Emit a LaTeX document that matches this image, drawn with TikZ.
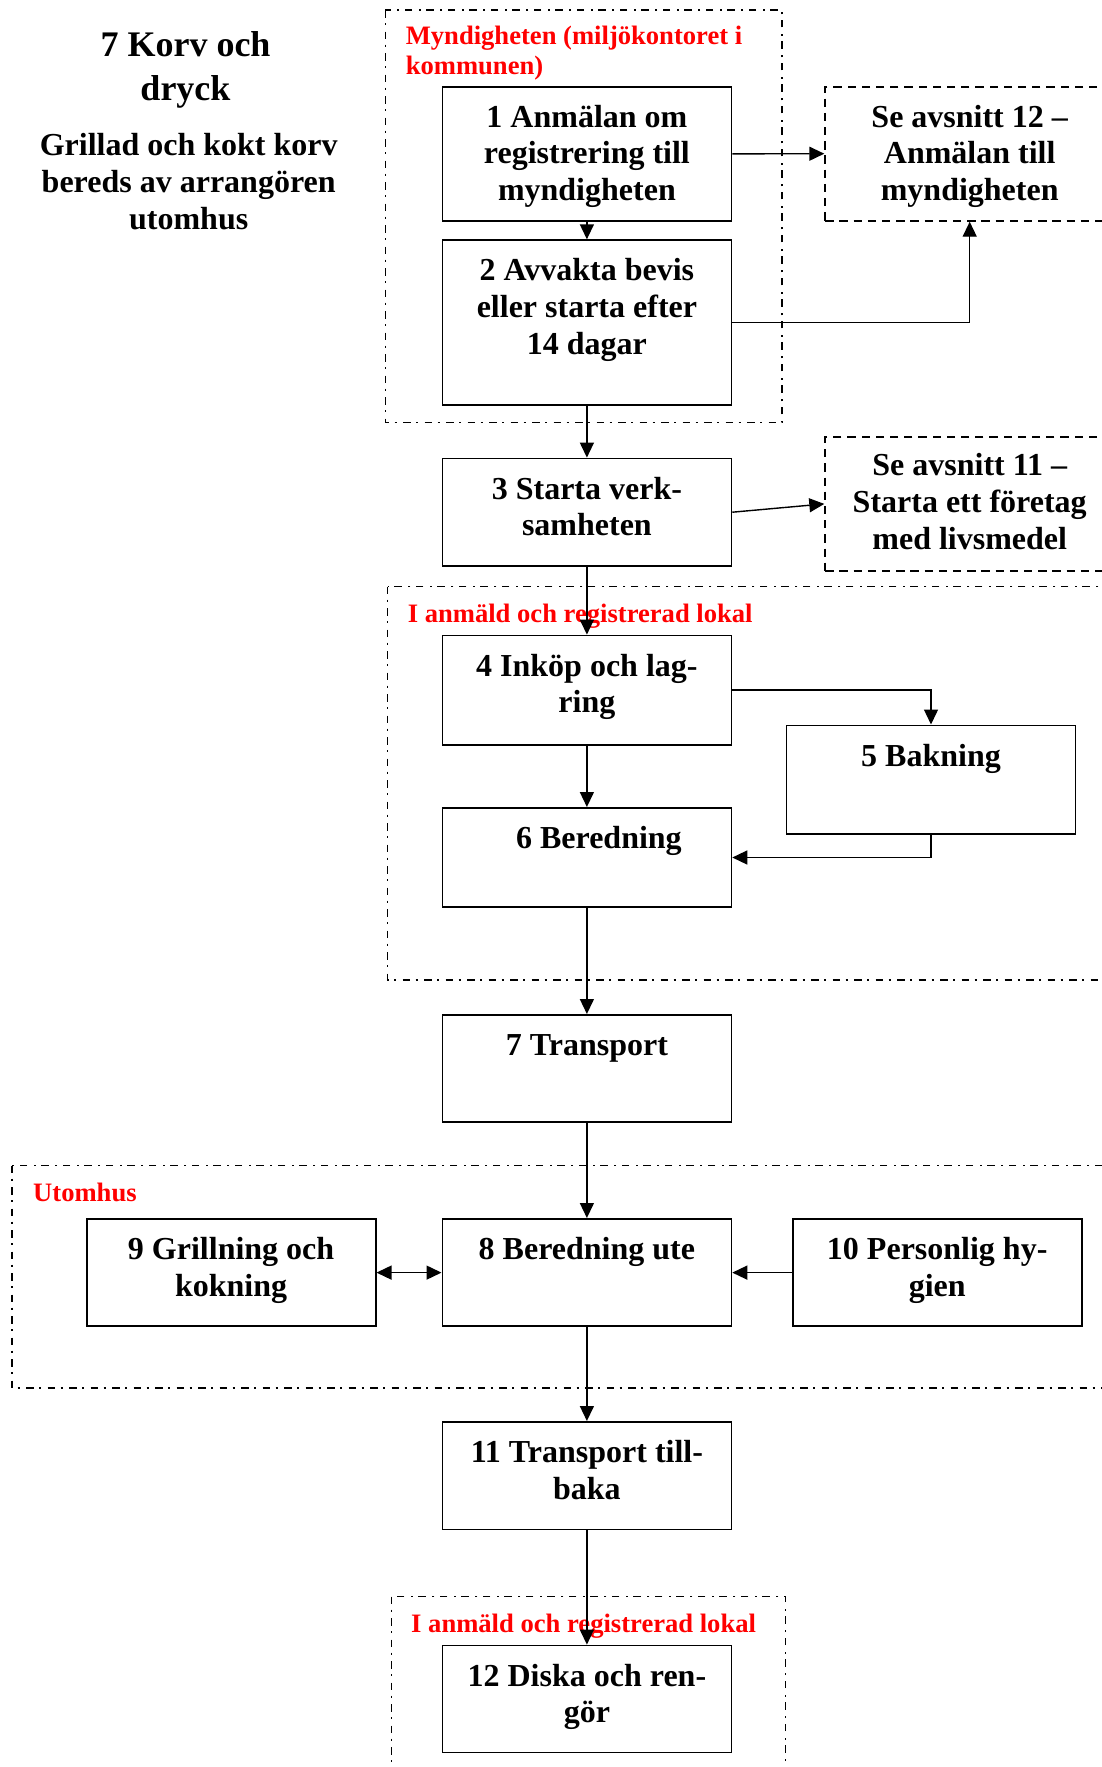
\documentclass[tikz,border=0pt]{standalone}
\usepackage{fontspec}
\setmainfont{Liberation Serif}
\usetikzlibrary{arrows.meta}

% box text: fixed height, top aligned, first baseline set by a strut
\newcommand{\boxtxt}[3]{\parbox[t][#1][t]{289pt}{\centering\rule{0pt}{#2}#3}}
% free text blocks (width, first-baseline strut, text)
\newcommand{\ctrtxt}[3]{\parbox[t]{#1}{\centering\rule{0pt}{#2}#3}}
\newcommand{\lefttxt}[3]{\parbox[t]{#1}{\raggedright\rule{0pt}{#2}#3}}

\begin{document}
\begin{tikzpicture}[x=1pt,y=-1pt,
  >={Triangle[length=15pt,width=14pt]},
  box/.style={draw, line width=1.8pt, inner sep=0pt, anchor=north west,
    font=\fontsize{32}{36.8}\selectfont\bfseries},
  refbox/.style={box, dash pattern=on 8.3pt off 5.9pt},
  grp/.style={line width=1.6pt, dash pattern=on 7.5pt off 5.5pt on 2pt off 6.5pt},
  conn/.style={line width=1.4pt, ->},
  lbl/.style={text=red, anchor=north west, inner sep=0pt,
    font=\fontsize{26.6}{30}\selectfont\bfseries},
  ttl/.style={anchor=north, inner sep=0pt, font=\fontsize{36}{43.6}\selectfont\bfseries},
  sub/.style={anchor=north, inner sep=0pt, font=\fontsize{32}{37.3}\selectfont\bfseries}
]
\clip (0,0) rectangle (1102,1767);

% grouping frames
\draw[grp] (385.4,10.2) rectangle (782,422.5);
\draw[grp] (387.6,586.5) rectangle (1130,980);
\draw[grp] (12,1165.5) rectangle (1130,1388);
\draw[grp] (391.4,1596.5) rectangle (785.6,1800);

% heading
\node[ttl] (title) at (185.5,16.6) {\ctrtxt{340pt}{40pt}{7 Korv och\\dryck}};
\node[sub] (subtitle) at (188.7,120) {\ctrtxt{340pt}{35pt}{Grillad och kokt korv\\bereds av arrangören\\utomhus}};

% frame labels
\node[lbl] (myn) at (405.6,14.5) {\lefttxt{420pt}{30pt}{Myndigheten (miljökontoret i\\kommunen)}};
\node[lbl] (lokal1) at (407.6,592) {\lefttxt{420pt}{30pt}{I anmäld och registrerad lokal}};
\node[lbl] (ute) at (33,1171) {\lefttxt{200pt}{30pt}{Utomhus}};
\node[lbl] (lokal2) at (411,1602) {\lefttxt{420pt}{30pt}{I anmäld och registrerad lokal}};

% steps
\node[box] (b1) at (441.5,85.7) {\boxtxt{134.5pt}{40.5pt}{1 Anmälan om\\registrering till\\myndigheten}};
\node[box] (b2) at (441.5,239.3) {\boxtxt{164.7pt}{40.5pt}{2 Avvakta bevis\\eller starta efter\\14 dagar}};
\node[box] (b3) at (441.5,457.6) {\boxtxt{107.4pt}{40.5pt}{3 Starta verk-\\samheten}};
\node[box] (b4) at (441.5,634.6) {\boxtxt{109.2pt}{40.5pt}{4 Inköp och lag-\\ring}};
\node[box] (b5) at (785.6,724.5) {\boxtxt{108.5pt}{41pt}{5 Bakning}};
\node[box] (b6) at (441.5,807) {\boxtxt{99.2pt}{40.5pt}{\hspace*{24pt}6 Beredning}};
\node[box] (b7) at (441.5,1014) {\boxtxt{107.4pt}{40.5pt}{7 Transport}};
\node[box] (b8) at (441.5,1218) {\boxtxt{107.4pt}{40.5pt}{8 Beredning ute}};
\node[box] (b9) at (85.7,1218) {\boxtxt{107.4pt}{40.5pt}{9 Grillning och\\kokning}};
\node[box] (b10) at (791.8,1218) {\boxtxt{107.4pt}{40.5pt}{10 Personlig hy-\\gien}};
\node[box] (b11) at (441.5,1421) {\boxtxt{107.5pt}{40.5pt}{11 Transport till-\\baka}};
\node[box] (b12) at (441.5,1644.6) {\boxtxt{107pt}{40.5pt}{12 Diska och ren-\\gör}};

% cross references
\node[refbox] (se12) at (824.3,85.7) {\boxtxt{134.2pt}{40.5pt}{Se avsnitt 12 –\\Anmälan till\\myndigheten}};
\node[refbox] (se11) at (824.3,436) {\boxtxt{134pt}{39pt}{Se avsnitt 11 –\\Starta ett företag\\med livsmedel}};

% connectors
\draw[conn] (b1.south) -- (b2.north);
\draw[conn] (b1.east) -- (se12.west);
\draw[conn] (b2.east) -| (se12.south);
\draw[conn] (b2.south) -- (b3.north);
\draw[conn] (b3.east) -- (se11.west);
\draw[conn] (b3.south) -- (b4.north);
\draw[conn] (b4.east) -| (b5.north);
\draw[conn] (b4.south) -- (b6.north);
\draw[conn] (b5.south) |- (b6.east);
\draw[conn] (b6.south) -- (b7.north);
\draw[conn] (b7.south) -- (b8.north);
\draw[conn,<->] (b9.east) -- (b8.west);
\draw[conn] (b10.west) -- (b8.east);
\draw[conn] (b8.south) -- (b11.north);
\draw[conn] (b11.south) -- (b12.north);
\end{tikzpicture}
\end{document}
